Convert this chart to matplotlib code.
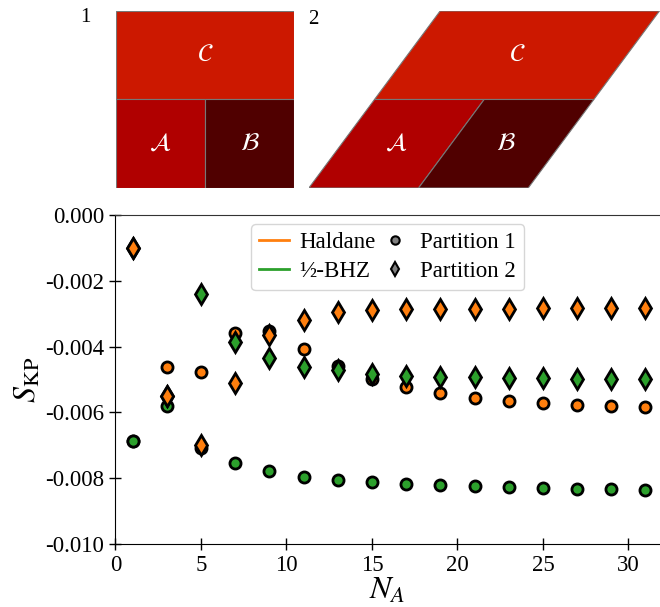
import matplotlib
matplotlib.use("Agg")
import matplotlib.pyplot as plt
from matplotlib.patches import Polygon
from matplotlib.lines import Line2D

plt.rcParams['font.family'] = ['Liberation Serif', 'DejaVu Serif']
plt.rcParams['mathtext.fontset'] = 'stix'
plt.rcParams['axes.unicode_minus'] = False

# data
n_a = [1, 3, 5, 7, 9, 11, 13, 15, 17, 19, 21, 23, 25, 27, 29, 31]
haldane_p1 = [-0.00687, -0.00463, -0.00478, -0.00358, -0.00354, -0.00407, -0.00458, -0.00498,
              -0.00524, -0.00542, -0.00557, -0.00565, -0.00571, -0.00577, -0.00581, -0.00585]
bhz_p1 = [-0.00687, -0.00581, -0.00707, -0.00753, -0.00778, -0.00795, -0.00805, -0.00812,
          -0.00817, -0.00821, -0.00825, -0.00828, -0.00830, -0.00832, -0.00834, -0.00835]
haldane_p2 = [-0.00101, -0.00550, -0.00700, -0.00510, -0.00365, -0.00319, -0.00294, -0.00289,
              -0.00287, -0.00286, -0.00285, -0.00285, -0.00284, -0.00284, -0.00283, -0.00282]
bhz_p2 = [-0.00101, -0.00550, -0.00241, -0.00387, -0.00436, -0.00461, -0.00472, -0.00482,
          -0.00488, -0.00491, -0.00493, -0.00495, -0.00496, -0.00497, -0.00498, -0.00499]
yticks = [0.000, -0.002, -0.004, -0.006, -0.008, -0.010]
xticks = [0, 5, 10, 15, 20, 25, 30]

orange = '#ff7f0e'
green = '#2ca02c'
col_c, col_a, col_b = '#cc1800', '#b00000', '#500000'

fig = plt.figure(figsize=(6.6, 6.07), dpi=100)

# --- partition sketches ---
shear = 0.742
pwidth = 1.24
regions1 = {
    r'$\mathcal{C}$': ([(0, 0.5), (1, 0.5), (1, 1), (0, 1)], col_c),
    r'$\mathcal{A}$': ([(0, 0), (0.5, 0), (0.5, 0.5), (0, 0.5)], col_a),
    r'$\mathcal{B}$': ([(0.5, 0), (1, 0), (1, 0.5), (0.5, 0.5)], col_b),
}

def shear_pts(pts):
    return [(x * pwidth + shear * y, y) for x, y in pts]

ax1 = fig.add_axes([0.1758, 0.6903, 0.2697, 0.2916])
ax2 = fig.add_axes([0.468, 0.6903, 0.532, 0.2916])
for ax, tf, xmax in [(ax1, lambda p: p, 1.0), (ax2, shear_pts, 1.985)]:
    for lab, (pts, c) in regions1.items():
        q = tf(pts)
        ax.add_patch(Polygon(q, closed=True, facecolor=c, edgecolor='#777777', lw=0.8))
        cx = sum(p[0] for p in q) / 4
        cy = sum(p[1] for p in q) / 4
        ax.text(cx, cy, lab, color='white', fontsize=18, ha='center', va='center')
    ax.set_xlim(0, xmax)
    ax.set_ylim(0, 1)
    ax.axis('off')

fig.text(85 / 660, 1 - 18 / 607, '1', fontsize=15, ha='center', va='center')
fig.text(313 / 660, 1 - 19 / 607, '2', fontsize=15, ha='center', va='center')

# --- main plot ---
ax = fig.add_axes([0.175, 0.1038, 0.825, 0.542])
kw = dict(ls='none', markeredgecolor='black', markeredgewidth=2.0, clip_on=False)
ax.plot(n_a, haldane_p1, marker='o', ms=8, color=orange, **kw)
ax.plot(n_a, bhz_p1, marker='o', ms=8, color=green, **kw)
ax.plot(n_a, bhz_p2, marker='d', ms=10, color=green, **kw)
ax.plot(n_a, haldane_p2, marker='d', ms=10, color=orange, **kw)

ax.set_xlim(0, 31.85)
ax.set_ylim(-0.010, 0.000)
ax.set_xticks(xticks)
ax.set_yticks(yticks)
ax.set_yticklabels(['%.3f' % v for v in yticks])
ax.tick_params(direction='inout', length=9, width=1, labelsize=16.5)
ax.spines['right'].set_visible(False)
ax.spines['top'].set_color('#333333')
ax.set_xlabel(r'$N_A$', fontsize=23, labelpad=0)
ax.set_ylabel(r'$S_{\rm KP}$', fontsize=23, labelpad=2)

handles = [
    Line2D([], [], color=orange, lw=2),
    Line2D([], [], color=green, lw=2),
    Line2D([], [], ls='none', marker='o', ms=6, color='gray', markeredgecolor='black', markeredgewidth=1.5),
    Line2D([], [], ls='none', marker='d', ms=7, color='gray', markeredgecolor='black', markeredgewidth=1.5),
]
labels = ['Haldane', '½-BHZ', 'Partition 1', 'Partition 2']
ax.legend(handles, labels, ncol=2, loc='upper center', fontsize=16.5, handlelength=1.3,
          handletextpad=0.45, columnspacing=0.2, borderaxespad=0.4, labelspacing=0.35,
          borderpad=0.35)

fig.savefig('out.png', dpi=100)
